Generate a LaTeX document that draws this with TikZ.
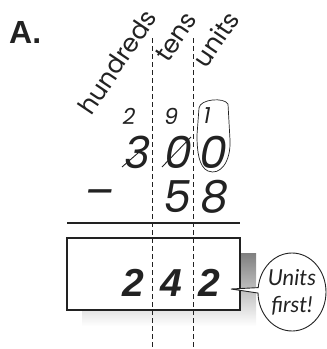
\documentclass[tikz,border=0pt]{standalone}
\usepackage{fontspec}
\setmainfont{Liberation Sans}
\newfontfamily\geo{Poppins}
\newfontfamily\geoslant[FakeSlant=0.18]{Poppins}
\newfontfamily\bubfont{Lato}
\usetikzlibrary{shapes.callouts}
\definecolor{ink}{HTML}{222222}
\definecolor{shade}{HTML}{D0D0D0}
\tikzset{
  txt/.style={inner sep=0pt, text=ink},
  colhead/.style={txt, font=\geo\fontsize{25}{25}\selectfont, rotate=56},
  small/.style={txt, font=\geoslant\fontsize{22}{22}\selectfont},
  big/.style={txt, font=\geoslant\fontsize{44}{44}\selectfont},
  ans/.style={txt, font=\bfseries\itshape\fontsize{39}{39}\selectfont},
  guide/.style={draw=ink, line width=0.8pt, dash pattern=on 5pt off 3pt},
  strike/.style={draw=ink, line width=0.9pt},
}
\begin{document}
\begin{tikzpicture}[x=1pt,y=-1pt]
\useasboundingbox (0,0) rectangle (327,349);
% title
\node[txt, font=\bfseries\fontsize{32}{32}\selectfont, anchor=west] (title) at (9,32) {A.};
% column headings
\node[colhead] (hund) at (117,62) {hundreds};
\node[colhead] (tens) at (176,37) {tens};
\node[colhead] (units) at (216,39) {units};
% answer box shadow and box
\fill[shade] (82,253) rectangle (256,326);
\node[draw=ink, line width=1.3pt, fill=white, minimum width=173pt, minimum height=72pt, inner sep=0pt] (box) at (153.5,274) {};
% guides
\coordinate (g1t) at (152,38); \coordinate (g1b) at (152,349);
\coordinate (g2t) at (193,38); \coordinate (g2b) at (193,349);
\draw[guide] (g1t) -- (g1b);
\draw[guide] (g2t) -- (g2b);
% rows
\node[small] (r1a) at (128,116) {2};
\node[small] (r1b) at (170,116) {9};
\node[small] (r1c) at (206,116) {1};
\node[big] (r2a) at (135,152) {3};
\node[big] (r2b) at (176,152) {0};
\node[big] (r2c) at (211,152) {0};
\coordinate (s1a) at (122,167); \coordinate (s1b) at (146,146);
\coordinate (s2a) at (162,167); \coordinate (s2b) at (191,137);
\draw[strike] (s1a) -- (s1b);
\draw[strike] (s2a) -- (s2b);
\node[big] (minus) at (97,199) {\char"2013};
\node[big] (r3b) at (175,197) {5};
\node[big] (r3c) at (212,197) {8};
% rule
\coordinate (ruleL) at (67,223); \coordinate (ruleR) at (240,223);
\draw[ink, line width=1.5pt] (ruleL) -- (ruleR);
% loop around units
\draw[ink, line width=0.7pt] (199,108) .. controls (200,99) and (224,97) .. (228,104)
  -- (230,140) .. controls (231,162) and (220,176) .. (208,171)
  .. controls (199,167) and (197,152) .. (197,135) -- cycle;
% answer
\node[ans] (a1) at (133,283) {2};
\node[ans] (a2) at (171,283) {4};
\node[ans] (a3) at (209,283) {2};
% bubble
\coordinate (tip) at (231,289);
\node[ellipse callout, draw=ink, line width=0.9pt, fill=white, minimum width=66pt, minimum height=78pt, inner sep=0pt,
  callout absolute pointer=(tip), callout pointer arc=8,
  font=\bubfont\itshape\fontsize{22}{27}\selectfont, text=ink, align=center] (bubble) at (292,292) {Units\\first!};
\end{tikzpicture}
\end{document}
